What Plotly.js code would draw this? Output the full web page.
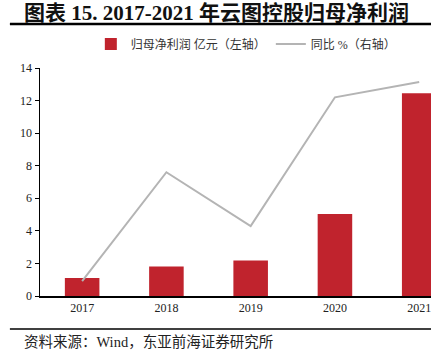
<!DOCTYPE html>
<html><head><meta charset="utf-8">
<script src="https://cdn.plot.ly/plotly-3.0.1.min.js"></script>
<style>html,body{margin:0;padding:0;background:#fff;}#c{width:431px;height:351px;}</style>
</head><body><div id="c"></div>
<script>
const years = ['2017','2018','2019','2020','2021'];
const profit = [1.1, 1.81, 2.18, 5.04, 12.45];
const yoy = [0.92, 7.6, 4.29, 12.2, 13.14];
const barName = '归母净利润 亿元（左轴）';
const lineName = '同比 %（右轴）';
const titleText = '图表 15. 2017-2021 年云图控股归母净利润';
const sourceText = '资料来源：Wind，东亚前海证券研究所';

const serif = 'Liberation Serif, Noto Sans CJK SC, serif';
const traces = [
  {type:'bar', x:years, y:profit, name:barName, marker:{color:'#c0232d'}, yaxis:'y'},
  {type:'scatter', mode:'lines', x:years, y:yoy, name:lineName, line:{color:'#b4b4b4', width:2}, yaxis:'y2'}
];
const layout = {
  width:431, height:351,
  margin:{l:40, r:0, t:68, b:55},
  paper_bgcolor:'#fff', plot_bgcolor:'#fff',
  bargap:0.59,
  showlegend:true,
  legend:{orientation:'h', x:0.13, y:1.105, xanchor:'left', yanchor:'middle',
    font:{family:serif, size:12, color:'#333'}, itemwidth:30, tracegroupgap:0},
  xaxis:{type:'category', range:[-0.5, 4.14], showline:true, linecolor:'#000', linewidth:1.5,
    ticks:'', showgrid:false, zeroline:false, fixedrange:true,
    tickfont:{family:serif, size:12, color:'#222'}},
  yaxis:{range:[0,14], dtick:2, showline:true, linecolor:'#000', linewidth:1.5,
    ticks:'outside', ticklen:4, tickcolor:'#000', showgrid:false, zeroline:false,
    tickfont:{family:serif, size:12, color:'#222'}},
  yaxis2:{overlaying:'y', side:'right', range:[0,14], visible:false, showgrid:false},
  shapes:[
    {type:'line', xref:'paper', yref:'paper', x0:-0.077, x1:1.0, y0:1.193, y1:1.193,
     line:{color:'#000', width:2.5}},
    {type:'line', xref:'paper', yref:'paper', x0:-0.077, x1:1.0, y0:-0.145, y1:-0.145,
     line:{color:'#000', width:1.5}}
  ],
  annotations:[
    {text:'<b>'+titleText+'</b>', xref:'paper', yref:'paper', x:-0.046, y:1.243,
     xanchor:'left', yanchor:'middle', showarrow:false,
     font:{family:serif, size:21, color:'#111'}},
    {text:sourceText, xref:'paper', yref:'paper', x:-0.046, y:-0.2,
     xanchor:'left', yanchor:'middle', showarrow:false,
     font:{family:serif, size:14.5, color:'#222'}}
  ]
};
Plotly.newPlot('c', traces, layout, {displayModeBar:false, staticPlot:true});
</script></body></html>
